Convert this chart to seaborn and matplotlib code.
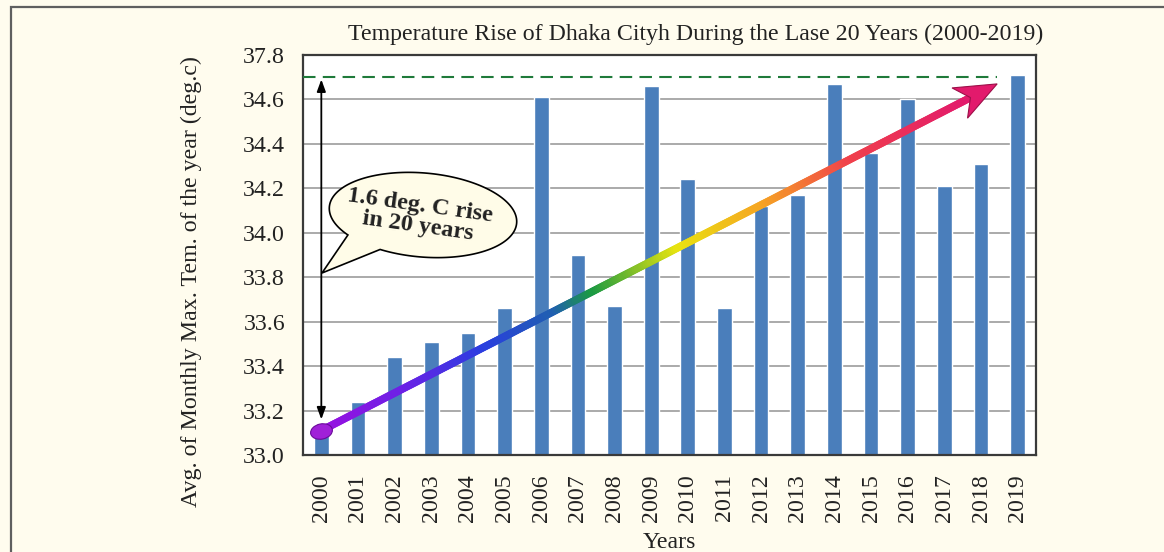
import numpy as np
import pandas as pd
import matplotlib
matplotlib.use("Agg")
import matplotlib.pyplot as plt
import seaborn as sns
from matplotlib.collections import LineCollection
from matplotlib.colors import LinearSegmentedColormap
from matplotlib.patches import Polygon, Rectangle
from matplotlib.path import Path
from matplotlib.transforms import Affine2D, IdentityTransform

# ---------------- data ----------------
years = [str(y) for y in range(2000, 2020)]
temps = [33.10, 33.24, 33.44, 33.51, 33.55, 33.66, 34.61, 33.90, 33.67, 34.66,
         34.24, 33.66, 34.12, 34.17, 34.67, 34.36, 34.60, 34.21, 34.31, 34.71]
ytick_values = [33.0, 33.2, 33.4, 33.6, 33.8, 34.0, 34.2, 34.4, 34.6, 34.8]
ytick_labels = ["33.0", "33.2", "33.4", "33.6", "33.8", "34.0", "34.2", "34.4", "34.6", "37.8"]
title = "Temperature Rise of Dhaka Cityh During the Lase 20 Years (2000-2019)"
ylabel = "Avg. of Monthly Max. Tem. of the year (deg.c)"
xlabel = "Years"
callout = "1.6 deg. C rise\nin 20 years"
trend_start = (0, 33.11)
trend_end = (18.44, 34.67)
ref_level = 34.70
range_low = 33.16

# ---------------- style ----------------
BG = "#FFFCEE"
BAR = "#4A7EBB"
sns.set_style("white")
plt.rcParams["font.family"] = ["Liberation Serif", "DejaVu Serif"]
FS = 17.2

W, H = 1164, 552
fig = plt.figure(figsize=(W / 100, H / 100), dpi=100, facecolor=BG)
ax = fig.add_axes([303 / W, 1 - 455 / H, 733 / W, 400 / H])
ax.set_facecolor("white")

df = pd.DataFrame({"year": years, "temp": temps})
sns.barplot(data=df, x="year", y="temp", color=BAR, width=0.40, saturation=1,
            ax=ax, zorder=2)

ax.set_xlim(-0.5, len(years) - 0.5)
ax.set_ylim(ytick_values[0], ytick_values[-1])
ax.set_yticks(ytick_values)
ax.set_yticklabels(ytick_labels)
ax.yaxis.grid(True, color="#9c9c9c", lw=1.2, zorder=0)
ax.xaxis.grid(False)
ax.set_axisbelow(True)
ax.tick_params(axis="y", length=0, pad=13, labelsize=FS, colors="#222222")
ax.tick_params(axis="x", length=0, pad=14, labelsize=FS, colors="#222222",
               labelrotation=90)
for s in ax.spines.values():
    s.set_visible(True)
    s.set_color("#3a3a3a")
    s.set_linewidth(1.6)

ax.set_xlabel(xlabel, fontsize=FS, color="#222222", labelpad=7)
ax.set_ylabel(ylabel, fontsize=FS, color="#222222")
ax.yaxis.set_label_coords(-0.138, 0.4325)
ax.set_title(title, fontsize=FS, color="#222222", x=0.536, pad=11)

# dashed reference level
ax.hlines(ref_level, -0.5, trend_end[0], colors="#1f7a3a", lw=1.5,
          linestyles=(0, (6, 3.5)), zorder=4)

# double-headed range arrow
ax.annotate("", xy=(trend_start[0], ref_level - 0.01), xytext=(trend_start[0], range_low),
            arrowprops=dict(arrowstyle="<|-|>,head_length=0.6,head_width=0.22",
                            color="black", lw=1.3, shrinkA=0, shrinkB=0,
                            mutation_scale=12), zorder=4)

# gradient trend arrow
S = ax.transData.transform(trend_start)
T = ax.transData.transform(trend_end)
u = (T - S) / np.linalg.norm(T - S)
n = np.array([-u[1], u[0]])
head = np.array([T, T - 42 * u + 17 * n, T - 30 * u, T - 42 * u - 17 * n])
shaft_end = ax.transData.inverted().transform(T - 32 * u)

cmap = LinearSegmentedColormap.from_list("trend", [
    (0.0, "#9a10e0"), (0.13, "#6a22e6"), (0.25, "#2a3ee0"), (0.36, "#2060b0"),
    (0.42, "#1b9a42"), (0.55, "#e8e410"), (0.68, "#f6a623"), (0.82, "#f0404c"),
    (1.0, "#e21a6c")])
t = np.linspace(0, 1, 300)
xs = trend_start[0] + (shaft_end[0] - trend_start[0]) * t
ys = trend_start[1] + (shaft_end[1] - trend_start[1]) * t
pts = np.column_stack([xs, ys]).reshape(-1, 1, 2)
segs = np.concatenate([pts[:-1], pts[1:]], axis=1)
lc = LineCollection(segs, colors=cmap(t[:-1]), linewidths=5.5, capstyle="round",
                    zorder=5)
ax.add_collection(lc)
ax.add_patch(Polygon(head, closed=True, transform=IdentityTransform(),
                     facecolor="#e21a6c", edgecolor="#9c0f48", lw=0.8, zorder=6,
                     clip_on=False))
blob = Path.unit_circle().transformed(Affine2D().scale(1.45, 1.0).rotate_deg(12))
ax.scatter([trend_start[0]], [trend_start[1]], marker=blob, s=260,
           color="#a020d8", edgecolor="#6a0a9a", lw=0.8, zorder=7)

# speech bubble callout (pixel geometry)
cx, cy, a, b, rot = 423, H - 215, 94, 42, np.deg2rad(-5)
tt = np.deg2rad(np.linspace(245, 579, 200))
ex = a * np.cos(tt)
ey = b * np.sin(tt)
bx = cx + ex * np.cos(rot) - ey * np.sin(rot)
by = cy + ex * np.sin(rot) + ey * np.cos(rot)
bubble = np.column_stack([np.append(bx, 322), np.append(by, H - 273)])
fig.patches.append(Polygon(bubble, closed=True, transform=IdentityTransform(),
                           facecolor="#FFFCE8", edgecolor="black", lw=1.2,
                           zorder=8))
fig.text(419 / W, 1 - 216 / H, callout, rotation=-8, ha="center", va="center",
         multialignment="center", fontsize=17.5, fontweight="bold", color="#222222",
         linespacing=1.0, zorder=9)

# figure frame
fig.patches.append(Rectangle((11 / W, -0.2), 1.5, 1.2 - 7 / H, fill=False,
                             edgecolor="#5f5f5f", lw=1.6,
                             transform=fig.transFigure, zorder=0))

fig.savefig("out.png", dpi=100, facecolor=BG)
